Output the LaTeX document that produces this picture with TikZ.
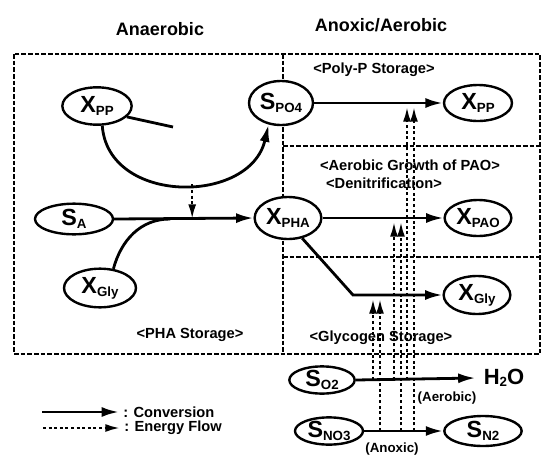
\documentclass[tikz,border=0pt]{standalone}
\usepackage{fontspec}
\setmainfont{Liberation Sans}
\usetikzlibrary{shapes.geometric,arrows.meta}
\newcommand\nsub[2]{#1\raisebox{-0.12em}{\fontsize{10}{10}\selectfont #2}}
\begin{document}
\begin{tikzpicture}[x=0.75pt,y=-0.75pt,
  ell/.style={ellipse,draw,line width=1.8pt,fill=white,inner sep=0pt,font=\bfseries\fontsize{17.5}{19}\selectfont},
  conv/.style={line width=2.1pt,-{Latex[length=13pt,width=7.5pt]}},
  solidline/.style={line width=2.1pt},
  energy/.style={line width=1.7pt,dash pattern=on 2.2pt off 2pt,-{Latex[length=11pt,width=6pt]}},
  boxline/.style={line width=1.8pt,dash pattern=on 3.5pt off 1.5pt},
  lbl/.style={font=\bfseries\fontsize{11}{13}\selectfont},
  sml/.style={font=\bfseries\fontsize{10}{12}\selectfont},
  ttl/.style={font=\bfseries\fontsize{13.5}{16}\selectfont},
]
\useasboundingbox (0,0) rectangle (544,472);

% dotted frames
\draw[boxline] (14,54) rectangle (540,354);
\draw[boxline] (283,54) -- (283,354);
\draw[boxline] (283,146) -- (540,146);
\draw[boxline] (283,257) -- (540,257);

% titles
\node[ttl] (tan) at (160,29) {Anaerobic};
\node[ttl] (tax) at (381,25) {Anoxic/Aerobic};

% section labels
\node[lbl] (lpoly) at (374,70) {<Poly-P Storage>};
\node[lbl] (lgrow) at (410,165) {<Aerobic Growth of PAO>};
\node[lbl] (lden) at (384,183) {<Denitrification>};
\node[lbl] (lgly) at (381,338) {<Glycogen Storage>};
\node[lbl] (lpha) at (190,335) {<PHA Storage>};

% nodes
\node[ell,minimum width=52pt,minimum height=28pt] (xppL) at (97,106) {\nsub{X}{PP}};
\node[ell,minimum width=48pt,minimum height=33pt] (spo4) at (281,103) {\nsub{S}{PO4}};
\node[ell,minimum width=51pt,minimum height=27pt] (xppR) at (478,103) {\nsub{X}{PP}};
\node[ell,minimum width=50pt,minimum height=31.5pt] (xpha) at (288,218) {\nsub{X}{PHA}};
\node[ell,minimum width=50pt,minimum height=27pt] (xpao) at (478,218) {\nsub{X}{PAO}};
\node[ell,minimum width=58.5pt,minimum height=23pt] (sa) at (74,219) {\nsub{S}{A}};
\node[ell,minimum width=54pt,minimum height=29pt] (xglyL) at (100,288) {\nsub{X}{Gly}};
\node[ell,minimum width=50pt,minimum height=28.5pt] (xglyR) at (477,295) {\nsub{X}{Gly}};
\node[ell,minimum width=49pt,minimum height=20pt] (so2) at (322,380) {\nsub{S}{O2}};
\node[ell,minimum width=51pt,minimum height=20pt] (sno3) at (329,431) {\nsub{S}{NO3}};
\node[ell,minimum width=58pt,minimum height=22.5pt] (sn2) at (483,431) {\nsub{S}{N2}};
\node[font=\bfseries\fontsize{16.5}{18}\selectfont,inner xsep=6pt,inner ysep=1pt] (h2o) at (504,378) {H\raisebox{-0.1em}{\fontsize{10}{10}\selectfont 2}O};
\node[sml] (laer) at (447,398) {(Aerobic)};
\node[sml] (lanx) at (392,449) {(Anoxic)};

% anaerobic conversions
\draw[conv] (xppL.-75) .. controls (108,205) and (250,205) .. (spo4.240)
  coordinate[pos=0.55] (cb);
\coordinate (tick) at (173,127);
\draw[solidline] (xppL.-20) -- (tick);
\draw[conv] (sa.east) -- (xpha.west);
\coordinate (gj) at (170,219);
\draw[solidline] (xglyL.55) to[out=75,in=180] (gj);
\coordinate (cbj) at (cb |- sa.east);
\draw[energy] (cb) -- (cbj);

% anoxic/aerobic conversions
\draw[conv] (spo4.east) -- (xppR.west);
\draw[conv] (xpha.east) -- (xpao.west);
\coordinate (bend) at (353,295);
\draw[conv] (xpha.-55) -- (bend) -- (xglyR.west);
\draw[conv] (so2.east) -- (h2o.west);
\draw[conv] (sno3.east) -- (sn2.west);

% energy flows
\coordinate (g1) at (373,380); \coordinate (g1t) at (373,299);
\coordinate (g2) at (380,431); \coordinate (g2t) at (380,299);
\coordinate (a1) at (394,380); \coordinate (a1t) at (394,222);
\coordinate (a2) at (401,431); \coordinate (a2t) at (401,222);
\coordinate (p1) at (407,380); \coordinate (p1t) at (407,107);
\coordinate (p2) at (414,431); \coordinate (p2t) at (414,107);
\draw[energy] (g1) -- (g1t);
\draw[energy] (g2) -- (g2t);
\draw[energy] (a1) -- (a1t);
\draw[energy] (a2) -- (a2t);
\draw[energy] (p1) -- (p1t);
\draw[energy] (p2) -- (p2t);

% legend
\coordinate (lc1) at (42,412); \coordinate (lc2) at (119,412);
\draw[conv] (lc1) -- (lc2);
\node[lbl,anchor=west,inner sep=0pt] (lconv) at (123,412) {: Conversion};
\coordinate (le1) at (43,428); \coordinate (le2) at (120,428);
\draw[energy] (le1) -- (le2);
\node[lbl,anchor=west,inner sep=0pt] (lener) at (124,428) {: Energy Flow};
\end{tikzpicture}
\end{document}
